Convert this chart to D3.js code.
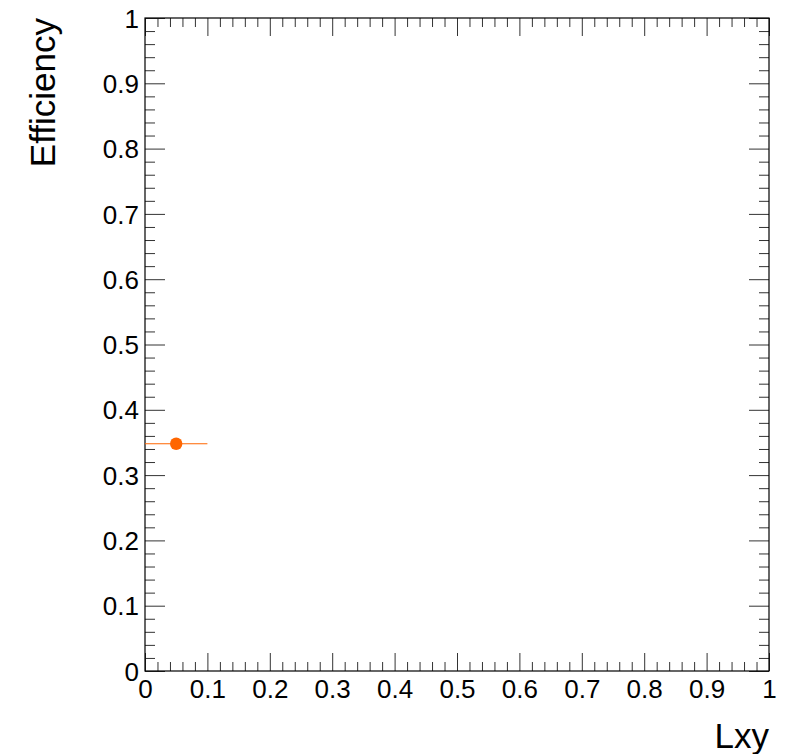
<!DOCTYPE html>
<html>
<head>
<meta charset="utf-8">
<script src="https://cdn.jsdelivr.net/npm/d3@7"></script>
<style>
  html, body { margin: 0; padding: 0; background: #fff; }
  svg { display: block; }
  text { font-family: "Liberation Sans", Arial, Helvetica, sans-serif; fill: #000; }
</style>
</head>
<body>
<svg id="chart" width="799" height="754"></svg>
<script>
// ---- data ----
const lxy = [0.05];
const efficiency = [0.348];
const lxyErrLow = [0.05];
const lxyErrHigh = [0.05];
const xTickValues = [0, 0.1, 0.2, 0.3, 0.4, 0.5, 0.6, 0.7, 0.8, 0.9, 1];
const xTickLabels = ["0", "0.1", "0.2", "0.3", "0.4", "0.5", "0.6", "0.7", "0.8", "0.9", "1"];
const yTickValues = [0, 0.1, 0.2, 0.3, 0.4, 0.5, 0.6, 0.7, 0.8, 0.9, 1];
const yTickLabels = ["0", "0.1", "0.2", "0.3", "0.4", "0.5", "0.6", "0.7", "0.8", "0.9", "1"];
const xTitle = "Lxy";
const yTitle = "Efficiency";

// ---- layout ----
const L = 145, R = 769, T = 18, B = 671;
const svg = d3.select("#chart");
const x = d3.scaleLinear().domain([0, 1]).range([L, R]);
const y = d3.scaleLinear().domain([0, 1]).range([B, T]);

const xMinor = d3.range(0, 51).map(i => i / 50).filter(v => !xTickValues.some(t => Math.abs(t - v) < 1e-9));
const yMinor = d3.range(0, 51).map(i => i / 50).filter(v => !yTickValues.some(t => Math.abs(t - v) < 1e-9));

function styleAxis(g) {
  g.select(".domain").remove();
  g.selectAll(".tick line").attr("stroke", "#333").attr("stroke-width", 1);
}

const fontSize = 26;

// bottom axis
svg.append("g").attr("transform", `translate(0,${B})`)
  .call(d3.axisBottom(x).tickValues(xTickValues).tickSize(-18).tickPadding(0)
    .tickFormat((d, i) => xTickLabels[i]))
  .call(styleAxis)
  .call(g => g.selectAll(".tick text").attr("font-size", fontSize).attr("y", 0).attr("dy", 0)
    .attr("transform", "translate(0,27)").attr("font-family", "Liberation Sans, Arial, sans-serif").attr("fill", "#000"));
svg.append("g").attr("transform", `translate(0,${B})`)
  .call(d3.axisBottom(x).tickValues(xMinor).tickSize(-9).tickFormat(""))
  .call(styleAxis);
// top axis
svg.append("g").attr("transform", `translate(0,${T})`)
  .call(d3.axisTop(x).tickValues(xTickValues).tickSize(-18).tickFormat(""))
  .call(styleAxis);
svg.append("g").attr("transform", `translate(0,${T})`)
  .call(d3.axisTop(x).tickValues(xMinor).tickSize(-9).tickFormat(""))
  .call(styleAxis);
// left axis
svg.append("g").attr("transform", `translate(${L},0)`)
  .call(d3.axisLeft(y).tickValues(yTickValues).tickSize(-20).tickPadding(0)
    .tickFormat((d, i) => yTickLabels[i]))
  .call(styleAxis)
  .call(g => g.selectAll(".tick text").attr("font-size", fontSize).attr("x", -6).attr("dy", "0.35em")
    .attr("font-family", "Liberation Sans, Arial, sans-serif").attr("fill", "#000"));
svg.append("g").attr("transform", `translate(${L},0)`)
  .call(d3.axisLeft(y).tickValues(yMinor).tickSize(-10).tickFormat(""))
  .call(styleAxis);
// right axis
svg.append("g").attr("transform", `translate(${R},0)`)
  .call(d3.axisRight(y).tickValues(yTickValues).tickSize(-20).tickFormat(""))
  .call(styleAxis);
svg.append("g").attr("transform", `translate(${R},0)`)
  .call(d3.axisRight(y).tickValues(yMinor).tickSize(-10).tickFormat(""))
  .call(styleAxis);

// frame
svg.append("rect").attr("x", L).attr("y", T).attr("width", R - L).attr("height", B - T)
  .attr("fill", "none").attr("stroke", "#000").attr("stroke-width", 1.2);

// titles
svg.append("text").attr("x", R).attr("y", 748).attr("text-anchor", "end")
  .attr("font-size", 35).text(xTitle);
svg.append("text").attr("transform", `translate(55,${T}) rotate(-90)`).attr("text-anchor", "end")
  .attr("font-size", 35).text(yTitle);

// data
const pts = lxy.map((v, i) => ({ x: v, y: efficiency[i], lo: lxyErrLow[i], hi: lxyErrHigh[i] }));
const color = "#ff6600";
svg.append("g").selectAll("line").data(pts).join("line")
  .attr("x1", d => x(d.x - d.lo)).attr("x2", d => x(d.x + d.hi))
  .attr("y1", d => y(d.y)).attr("y2", d => y(d.y))
  .attr("stroke", color).attr("stroke-width", 1.2);
svg.append("g").selectAll("circle").data(pts).join("circle")
  .attr("cx", d => x(d.x)).attr("cy", d => y(d.y)).attr("r", 6.2)
  .attr("fill", color);
</script>
</body>
</html>
